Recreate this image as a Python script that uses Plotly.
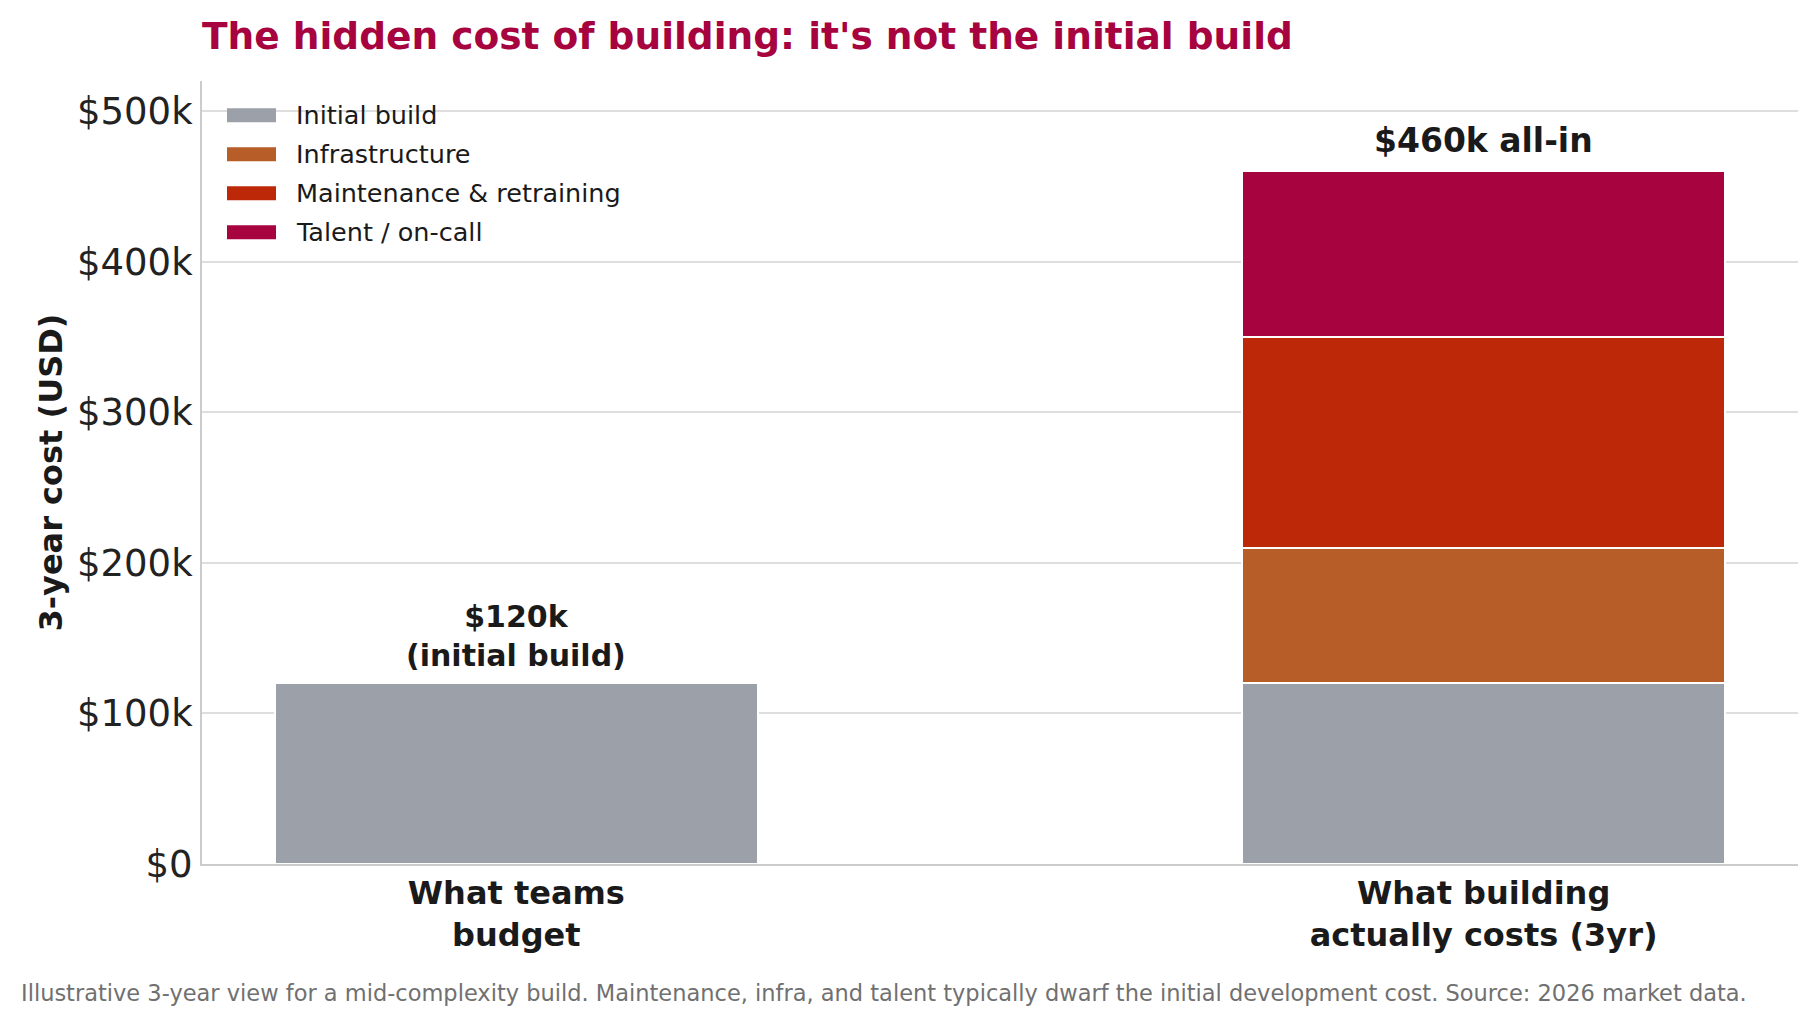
import plotly.graph_objects as go

# ---- data ----
categories = ["What teams<br>budget", "What building<br>actually costs (3yr)"]
series_names = ["Initial build", "Infrastructure", "Maintenance & retraining", "Talent / on-call"]
initial_build = [120000, 120000]
infrastructure = [None, 90000]
maintenance = [None, 140000]
talent = [None, 110000]
series_values = [initial_build, infrastructure, maintenance, talent]
colors = ["#9CA0A8", "#B75D27", "#BD2808", "#A6033F"]
tick_vals = [0, 100000, 200000, 300000, 400000, 500000]
tick_text = ["$0", "$100k", "$200k", "$300k", "$400k", "$500k"]
bar_labels = ["<b>$120k<br>(initial build)</b>", "<b>$460k all-in</b>"]
totals = [120000, 460000]

FONT = "DejaVu Sans"
W, H = 1818, 1024
L, R, T, B = 202, 20, 81, 160
PW, PH = W - L - R, H - T - B

fig = go.Figure()
for name, vals, col in zip(series_names, series_values, colors):
    fig.add_trace(go.Bar(
        x=categories, y=vals, name=name, width=0.5,
        marker=dict(color=col, line=dict(color="white", width=2)),
        showlegend=False, hoverinfo="skip",
    ))

# custom legend (wide swatches like the reference)
def px_x(px):
    return (px - L) / PW

def px_y(py):
    return (H - B - py) / PH

leg_y = [115.3, 154.3, 193.3, 232.3]
for name, col, yc in zip(series_names, colors, leg_y):
    fig.add_shape(type="rect", xref="paper", yref="paper",
                  x0=px_x(227), x1=px_x(276), y0=px_y(yc + 7), y1=px_y(yc - 7),
                  fillcolor=col, line=dict(width=0), layer="above")
    fig.add_annotation(xref="paper", yref="paper", x=px_x(294), y=px_y(yc),
                       text=name, showarrow=False, xanchor="left", yanchor="middle",
                       font=dict(family=FONT, size=25.5, color="#1a1a1a"))

# value labels above bars
shifts = [8, 9]
sizes = [30, 33]
for cat, tot, lab, sh, sz in zip(categories, totals, bar_labels, shifts, sizes):
    fig.add_annotation(x=cat, y=tot, text=lab, showarrow=False, yanchor="bottom",
                       yshift=sh, font=dict(family=FONT, size=sz, color="#1a1a1a"))

# y axis title
fig.add_annotation(xref="paper", yref="paper", x=px_x(50), y=0.5, textangle=-90,
                   text="<b>3-year cost (USD)</b>", showarrow=False,
                   xanchor="center", yanchor="middle",
                   font=dict(family=FONT, size=32, color="#1a1a1a"))

# footer
fig.add_annotation(xref="paper", yref="paper", x=px_x(19), y=px_y(993),
                   text="Illustrative 3-year view for a mid-complexity build. Maintenance, infra, and talent typically dwarf the initial development cost. Source: 2026 market data.",
                   showarrow=False, xanchor="left", yanchor="middle",
                   font=dict(family=FONT, size=22.5, color="#707070"))

fig.update_layout(
    width=W, height=H,
    margin=dict(l=L, r=R, t=T, b=B),
    barmode="stack",
    plot_bgcolor="white", paper_bgcolor="white",
    title=dict(text="<b>The hidden cost of building: it's not the initial build</b>",
               x=0, xref="paper", xanchor="left", y=1 - 36 / H, yref="container",
               yanchor="middle", font=dict(family=FONT, size=37.5, color="#A6033F")),
    font=dict(family=FONT, color="#1a1a1a"),
    showlegend=False,
)
fig.update_xaxes(range=[-0.325, 1.325], showline=True, linecolor="#cccccc", linewidth=2,
                 showgrid=False, ticks="", tickfont=dict(family=FONT, size=32, color="#1a1a1a"),
                 tickvals=categories, ticktext=["<b>" + c + "</b>" for c in categories])
fig.update_yaxes(range=[0, 520000], showline=True, linecolor="#cccccc", linewidth=2,
                 showgrid=True, gridcolor="#dedede", gridwidth=2, zeroline=False,
                 tickvals=tick_vals, ticktext=tick_text, ticks="",
                 tickfont=dict(family=FONT, size=37, color="#222222"))

fig.write_html("out.html")
